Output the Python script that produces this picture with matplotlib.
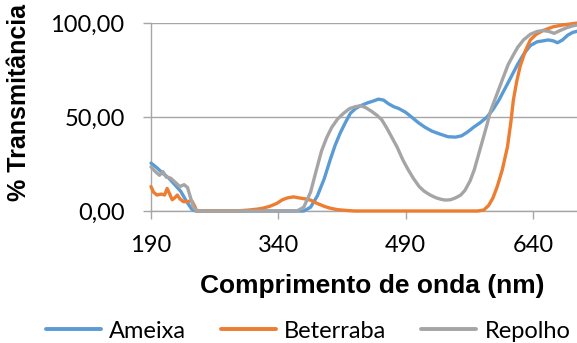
import matplotlib
matplotlib.use("Agg")
import matplotlib.pyplot as plt

# ── Data ─────────────────────────────────────────────────────────
ameixa_nm = [190, 197, 204, 211, 218, 225, 232, 238, 243, 300, 370, 378, 386,
             394, 401, 407, 413, 419, 425, 431, 437, 445, 452, 458, 464, 470,
             476, 482, 490, 497, 505, 513, 521, 530, 540, 549, 556, 563, 570,
             578, 586, 593, 600, 607, 614, 622, 630, 637, 645, 652, 658, 664,
             669, 675, 681, 687, 693]
ameixa_t = [25.5, 23, 20, 17.5, 14, 10.5, 5, 1, 0, 0, 0, 2, 8,
            17, 27, 35, 41.5, 47, 52, 54.5, 56, 57.5, 58.5, 59.5, 59, 57,
            55.5, 54.5, 52.5, 50, 47, 44.5, 42.5, 41, 39.5, 39.3, 40, 42, 44.5,
            47, 50, 54, 59, 65, 71, 78, 84, 88, 90, 90.5, 91, 90.5,
            89.5, 91, 93.5, 95, 95.7]

beterraba_nm = [190, 193, 197, 202, 206, 209, 212, 215, 218, 221, 224, 228,
                233, 238, 241, 244, 290, 305, 315, 322, 330, 338, 345, 351,
                358, 364, 371, 378, 386, 394, 401, 410, 420, 430, 575, 582,
                588, 593, 598, 604, 610, 614, 617, 621, 625, 631, 637, 644,
                652, 664, 676, 693]
beterraba_t = [13, 10, 8.5, 9, 8.5, 12, 9, 6, 7, 8.5, 6.5, 5,
               5, 5.5, 3, 0, 0, 0.5, 1, 1.5, 2.5, 4, 6, 7,
               7.5, 7, 6.5, 5.8, 4, 2.5, 1.5, 0.7, 0.3, 0, 0, 0.5,
               3, 7, 13, 22, 34, 47, 59, 69, 77, 85, 91, 94,
               96, 98, 99, 100]

repolho_nm = [190, 195, 200, 204, 208, 213, 218, 224, 229, 233, 236, 240, 244,
              300, 362, 370, 378, 385, 391, 397, 403, 410, 417, 424, 431, 437,
              443, 450, 456, 462, 468, 474, 480, 487, 493, 499, 506, 512, 519,
              526, 532, 537, 543, 549, 555, 560, 566, 571, 576, 581, 586, 590,
              595, 600, 605, 611, 617, 622, 629, 637, 645, 652, 659, 665, 672,
              680, 687, 693]
repolho_t = [23.5, 21, 19, 21, 18, 17.5, 15.5, 13, 14, 12.5, 8, 2, 0,
             0, 0, 2, 10, 22, 32, 39, 44.5, 49, 52, 54.5, 55.5, 56,
             55, 53, 51, 48.5, 44, 39, 34, 27, 22, 17.5, 13, 10.5, 8.5,
             7, 6.2, 5.8, 6, 7, 8.5, 11, 16, 22, 30, 38, 46, 53,
             59, 65, 71, 78, 83, 87, 91, 94, 95.5, 96, 95.5, 94.5, 96,
             97.5, 98.5, 99]

x_ticks = [190, 340, 490, 640]
y_ticks = [0, 50, 100]
y_tick_labels = ["0,00", "50,00", "100,00"]

# ── Style ────────────────────────────────────────────────────────
BLUE = "#5B9BD5"
ORANGE = "#ED7D31"
GRAY = "#A5A5A5"
GRID = "#A6A6A6"
TICK_FONT = "Lato"
BOLD_FONT = "Liberation Sans"
LW = 2.4

fig = plt.figure(figsize=(5.77, 3.43), dpi=100)
ax = fig.add_axes([151 / 577, 1 - 211 / 343, (577 - 151) / 577, 188 / 343])

ax.plot(ameixa_nm, ameixa_t, color=BLUE, lw=LW, label="Ameixa",
        solid_capstyle="round", clip_on=False, zorder=3)
ax.plot(beterraba_nm, beterraba_t, color=ORANGE, lw=LW, label="Beterraba",
        solid_capstyle="round", clip_on=False, zorder=3)
ax.plot(repolho_nm, repolho_t, color=GRAY, lw=LW, label="Repolho",
        solid_capstyle="round", clip_on=False, zorder=3)

ax.set_xlim(190, 692)
ax.set_ylim(0, 100)
ax.set_xticks(x_ticks)
ax.set_xticklabels([str(v) for v in x_ticks], fontfamily=TICK_FONT, fontsize=17)
ax.set_yticks(y_ticks)
ax.set_yticklabels(y_tick_labels, fontfamily=TICK_FONT, fontsize=17)

for s in ["top", "right"]:
    ax.spines[s].set_visible(False)
for s in ["left", "bottom"]:
    ax.spines[s].set_color(GRID)
    ax.spines[s].set_linewidth(1)
ax.yaxis.grid(True, color=GRID, lw=1)
ax.set_axisbelow(True)
ax.tick_params(axis="both", color=GRID, length=6, width=1, direction="out",
               labelcolor="black")
ax.tick_params(axis="y", pad=13)
ax.tick_params(axis="x", pad=11)

# axis titles
fig.text(372 / 577, 1 - 293 / 343, "Comprimento de onda (nm)",
         ha="center", va="baseline", fontfamily=BOLD_FONT,
         fontweight="bold", fontsize=19)
fig.text(19 / 577, 1 - 102 / 343, "% Transmitância", rotation=90, ha="center",
         va="center", fontfamily=BOLD_FONT, fontweight="bold", fontsize=18)

leg = fig.legend(loc="center", bbox_to_anchor=(308 / 577, 1 - 331 / 343),
                 ncol=3, frameon=False, prop={"family": TICK_FONT, "size": 17},
                 handlelength=2.35, handletextpad=0.35, columnspacing=1.45,
                 borderpad=0, borderaxespad=0)
for line in leg.get_lines():
    line.set_linewidth(LW + 0.4)

fig.savefig("out.png", dpi=100)
